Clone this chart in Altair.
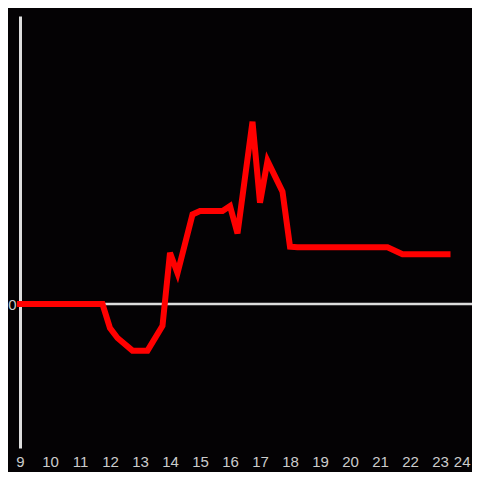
import altair as alt
import pandas as pd

hours = [9, 11.75, 12.0, 12.25, 12.75, 13.25, 13.75, 14.0, 14.25, 14.75, 15.0,
         15.75, 16.0, 16.25, 16.75, 17.0, 17.25, 17.75, 18.0, 18.25, 21.25, 21.75, 23.25]
values = [0, 0, -8.4, -11.8, -16.2, -16.2, -7.6, 17.8, 10.7, 31.1, 32.3,
          32.3, 34.0, 24.5, 63.3, 35.2, 49.7, 39.0, 19.9, 19.7, 19.7, 17.3, 17.3]
x_ticks = list(range(9, 25))

df = pd.DataFrame({"hour": hours, "value": values})
zero_df = pd.DataFrame({"x": [9], "x2": [24.07], "y": [0]})

BG = "#040204"

xscale = alt.Scale(domain=[9, 24], nice=False, zero=False)
yscale = alt.Scale(domain=[-50, 100], nice=False, zero=False)

zero = alt.Chart(zero_df).mark_rule(color="#dddddd", strokeWidth=2.5, clip=False).encode(
    x=alt.X("x:Q", scale=xscale, axis=alt.Axis(values=x_ticks, title=None)),
    x2="x2:Q",
    y=alt.Y("y:Q", scale=yscale, axis=alt.Axis(values=[0], title=None)),
)

line = alt.Chart(df).mark_line(
    color="#ff0000", strokeWidth=6, strokeCap="square", strokeJoin="miter"
).encode(
    x=alt.X("hour:Q", scale=xscale, axis=alt.Axis(values=x_ticks, title=None)),
    y=alt.Y("value:Q", scale=yscale, axis=alt.Axis(values=[0], title=None)),
)

chart = alt.layer(zero, line).properties(
    width=450, height=432,
    autosize=alt.AutoSizeParams(type="none"),
    padding={"left": 12, "top": 8, "right": 2, "bottom": 24},
    background=BG,
    usermeta={"embedOptions": {"defaultStyle": "body{background-color:%s;}" % BG}},
).configure_view(stroke=None).configure_axisX(
    domain=False, ticks=False, grid=False, labelColor="#cccccc", labelFontSize=15,
    labelPadding=6, labelFont="Liberation Sans", format="d",
    labelOverlap=False, labelFlush=False,
    labelAlign=alt.ExprRef("datum.value == 24 ? 'right' : 'center'"),
).configure_axisY(
    domain=True, domainColor="#dddddd", domainWidth=3, ticks=False, grid=False,
    labelColor="#cccccc", labelFontSize=15, labelPadding=4, labelFont="Liberation Sans",
)

chart.save("out.html", embed_options={"renderer": "svg", "actions": False})
